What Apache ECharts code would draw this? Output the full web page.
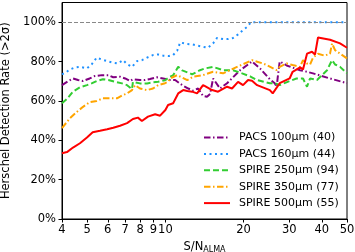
<!DOCTYPE html>
<html><head><meta charset="utf-8">
<script src="https://cdn.jsdelivr.net/npm/echarts@6/dist/echarts.min.js"></script>
<style>html,body{margin:0;padding:0;background:#fff}#c{width:355px;height:252px}</style>
</head><body><div id="c"></div>
<script>
// Tick labels
const xTicks = [4, 5, 6, 7, 8, 9, 10, 20, 30, 40, 50];
const yTicks = [0, 20, 40, 60, 80, 100];
const seriesNames = ['PACS 100µm (40)', 'PACS 160µm (44)', 'SPIRE 250µm (94)', 'SPIRE 350µm (77)', 'SPIRE 500µm (55)'];

// [S/N_ALMA, detection rate %]
const pacs100 = [[4.0,68],[4.04,68],[4.22,70],[4.41,71.4],[4.61,70.6],[4.82,70.1],[5.11,71.4],[5.34,72.6],[5.70,73.1],[6.03,73.1],[6.30,72],[6.69,72.3],[7.00,71.4],[7.31,70.1],[7.50,71],[7.98,70.6],[8.35,70.6],[8.72,71.1],[9.29,72],[9.80,71.4],[10.42,70.6],[10.90,70.6],[11.61,68],[12.25,66.3],[12.78,65.2],[13.36,66.3],[13.96,62.5],[14.46,62.1],[14.86,63.5],[15.26,71.4],[15.53,72],[16.23,66.3],[17.27,69],[18.05,71.5],[19.38,75.6],[20.81,78.5],[21.55,80],[23.13,76.5],[25.23,71],[26.35,69],[26.82,67.2],[27.06,72],[27.54,80],[28.5,79],[29.29,78],[32.98,75.6],[35.08,74.8],[36.99,74],[43.02,71.4],[50,69]];
const pacs160 = [[4.0,73.5],[4.14,74.5],[4.29,76],[4.49,77],[4.69,77.3],[4.99,76.5],[5.20,78.5],[5.44,82],[5.70,81],[5.97,80.2],[6.30,79.4],[6.57,79],[6.87,80.7],[7.12,78.7],[7.44,77.3],[7.77,80.2],[8.12,80.7],[8.50,82],[8.96,83.3],[9.38,83.6],[9.80,83],[10.33,82.8],[10.71,83.3],[11.10,85.5],[11.40,89.7],[12.14,88.9],[12.67,88.7],[13.36,88],[13.96,87.5],[14.59,87],[15.26,89.2],[15.81,92],[16.67,91.4],[17.43,91.4],[18.22,92],[19.04,93.8],[19.90,96],[20.63,97.6],[21.37,100],[50,100]];
const spire250 = [[4.0,58.8],[4.18,61],[4.41,64.7],[4.69,66.9],[4.99,68],[5.20,68.9],[5.44,70.1],[5.75,71],[6.03,70.6],[6.40,69.7],[6.81,68.9],[7.12,68],[7.44,66],[7.50,69.7],[7.98,68.9],[8.50,68.9],[8.96,69.4],[9.38,69.7],[9.97,70.5],[10.42,72.3],[10.71,73],[11.20,77.3],[11.61,75.5],[12.44,74],[12.67,73.5],[13.59,75.6],[14.21,76.5],[15.26,77.3],[15.53,78.2],[16.67,75.6],[18.22,75.6],[19.73,74],[21.18,72.5],[22.54,70.6],[25.23,69],[26.35,69],[27.54,68],[29.55,69.7],[31.97,71.4],[33.86,71.4],[35.08,67.2],[35.39,66.5],[36.03,71.4],[38.33,70.6],[41.89,75.6],[43.79,80.7],[45.0,78.5],[47.01,77.3],[50,74]];
const spire350 = [[4.0,46.2],[4.29,51.2],[4.57,54.5],[4.82,57],[5.11,59.3],[5.44,60],[5.75,61.3],[6.12,61.3],[6.51,61.3],[6.87,63],[7.12,63.8],[7.44,65.5],[7.64,68],[7.98,66.3],[8.50,65.5],[8.96,66.3],[9.38,68],[9.97,69],[10.24,69.7],[10.42,71.4],[11.10,73.1],[12.14,70.6],[12.78,72.3],[13.96,73.1],[15.26,74.8],[16.67,74],[18.87,77.3],[21.55,80.7],[23.73,79],[24.58,78.2],[26.82,75.6],[27.54,77.3],[29.29,79],[30.88,78.2],[32.98,77.3],[33.86,80.7],[35.08,79],[36.03,78.5],[37.0,82],[38.67,84],[41.0,83],[43.02,84],[43.79,89.2],[44.97,85.8],[47.0,84],[50,81.6]];
const spire500 = [[4.0,33.4],[4.18,34],[4.41,36.3],[4.69,38.5],[4.99,41.4],[5.25,44.1],[5.60,44.8],[5.97,45.6],[6.30,46.4],[6.69,47.4],[7.12,48.7],[7.50,50.8],[7.84,51.5],[8.12,49.8],[8.57,52],[9.13,53.2],[9.54,52.5],[10.0,55.4],[10.24,57.9],[10.71,58.8],[11.20,63.8],[11.71,65.5],[12.14,65],[12.67,64.7],[13.24,63.8],[13.96,68],[14.21,67.5],[15.12,65.5],[15.95,64.7],[17.27,67.2],[18.05,66.3],[19.04,69.7],[19.90,68],[20.81,70.6],[21.55,70.2],[22.54,68],[25.23,65.5],[25.89,63.8],[27.54,69],[30.07,71.4],[30.88,74.8],[32.98,77],[33.86,76],[35.08,84],[36.67,85],[37.65,83.5],[38.67,92.2],[43.02,91.1],[47.01,89.2],[50,87]];

const allData = [pacs100, pacs160, spire250, spire350, spire500];
const colors = ['#800080', '#1e90ff', '#32cd32', '#ffa500', '#ff0000'];
const dashes = [[6.5, 2.5, 1.5, 2.5], [2, 3.5], [6, 3], [6.5, 2.5, 1.5, 2.5], 'solid'];

const FONT = 'DejaVu Sans';
const lg = v => Math.log10(v);

const series = allData.map((d, i) => ({
  name: seriesNames[i],
  type: 'line',
  symbol: 'circle',
  showSymbol: false,
  animation: false,
  data: d.map(p => [lg(p[0]), p[1]]),
  lineStyle: { color: colors[i], width: 2, type: dashes[i] },
  itemStyle: { color: colors[i] },
  z: 3 + i
}));
series[0].markLine = {
  silent: true, symbol: 'none', label: { show: false },
  lineStyle: { color: '#888', type: [4, 2], width: 1.2 },
  data: [{ yAxis: 100 }]
};

const chart = echarts.init(document.getElementById('c'), null, { renderer: 'canvas' });
chart.setOption({
  animation: false,
  textStyle: { fontFamily: FONT },
  grid: { left: 62, right: 8, top: 2.5, bottom: 33, outerBoundsMode: 'none', containLabel: false, show: true, borderColor: '#000', borderWidth: 1, backgroundColor: 'transparent' },
  xAxis: {
    type: 'value', min: lg(4), max: lg(50),
    name: '{a|S/N}{b|ALMA}', nameLocation: 'middle', nameGap: 15,
    nameTextStyle: { rich: {
      a: { fontFamily: FONT, fontSize: 11.5, color: '#000', lineHeight: 15 },
      b: { fontFamily: FONT, fontSize: 8, color: '#000', lineHeight: 7, verticalAlign: 'bottom' }
    } },
    axisLine: { lineStyle: { color: '#000', width: 1 } },
    axisTick: { show: true, length: 3.5, inside: false, customValues: xTicks.map(lg), lineStyle: { color: '#000' } },
    axisLabel: { customValues: xTicks.map(lg), formatter: v => String(Math.round(Math.pow(10, v))), fontFamily: FONT, fontSize: 11.5, color: '#000', margin: 5 },
    splitLine: { show: false }
  },
  yAxis: {
    type: 'value', min: 0, max: 110,
    name: 'Herschel Detection Rate (>2σ)', nameLocation: 'middle', nameGap: 42,
    nameTextStyle: { fontFamily: FONT, fontSize: 11.5, color: '#000' },
    axisLine: { show: true, lineStyle: { color: '#000', width: 1 } },
    axisTick: { show: true, length: 3.5, customValues: yTicks, lineStyle: { color: '#000' } },
    axisLabel: { customValues: yTicks, formatter: v => v + '%', fontFamily: FONT, fontSize: 11.5, color: '#000', margin: 6 },
    splitLine: { show: false }
  },
  legend: {
    orient: 'vertical', left: 198, top: 127,
    itemWidth: 26, itemHeight: 12, itemGap: 5.4,
    data: seriesNames,
    itemStyle: { opacity: 0 },
    textStyle: { fontFamily: FONT, fontSize: 11, color: '#000', padding: [0, 0, 0, 4] },
    inactiveColor: '#ccc'
  },
  series: series
});
</script></body></html>
